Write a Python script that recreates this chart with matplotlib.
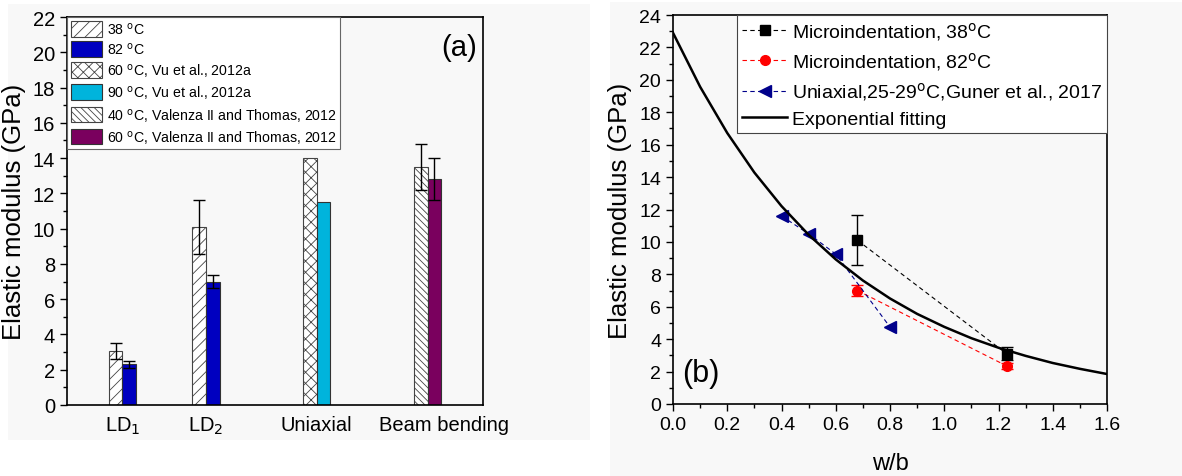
import matplotlib
matplotlib.use('Agg')
import matplotlib.pyplot as plt
from matplotlib.patches import Rectangle
from matplotlib.ticker import MultipleLocator, FormatStrFormatter
import numpy as np

plt.rcParams['font.family'] = ['Liberation Sans', 'DejaVu Sans']
plt.rcParams['hatch.linewidth'] = 0.6

# ---- panel (a) data ----
groups = ['LD$_1$', 'LD$_2$', 'Uniaxial', 'Beam bending']
group_pos = [1.0, 1.75, 2.75, 3.75]
series_a = ['38 $^{\\rm o}$C', '82 $^{\\rm o}$C',
            '60 $^{\\rm o}$C, Vu et al., 2012a', '90 $^{\\rm o}$C, Vu et al., 2012a',
            '40 $^{\\rm o}$C, Valenza II and Thomas, 2012',
            '60 $^{\\rm o}$C, Valenza II and Thomas, 2012']
val_38 = [3.05, 10.1]
err_38 = [0.45, 1.55]
val_82 = [2.3, 7.0]
err_82 = [0.2, 0.35]
val_vu60 = [14.0]
val_vu90 = [11.5]
val_val40 = [13.5]
err_val40 = [1.3]
val_val60 = [12.8]
err_val60 = [1.2]

# ---- panel (b) data ----
wb_micro = [0.68, 1.23]
E_38 = [10.1, 3.1]
E_38_err = [1.55, 0.4]
E_82 = [7.0, 2.35]
E_82_err = [0.35, 0.2]
wb_guner = [0.4, 0.5, 0.6, 0.8]
E_guner = [11.6, 10.5, 9.25, 4.75]
wb_fit = [0.0, 0.1, 0.2, 0.3, 0.4, 0.5, 0.6, 0.7, 0.8, 0.9, 1.0, 1.1, 1.2, 1.3, 1.4, 1.5, 1.6]
E_fit = [22.9, 19.57, 16.72, 14.28, 12.21, 10.44, 8.92, 7.62, 6.51, 5.56, 4.76,
         4.06, 3.47, 2.97, 2.53, 2.17, 1.85]

fig = plt.figure(figsize=(11.82, 4.77), dpi=100)
bg = '#f8f8f8'
fig.patches.append(Rectangle((8 / 1182, 1 - 441 / 477), 582 / 1182, 436 / 477,
                             transform=fig.transFigure, facecolor=bg, edgecolor='none', zorder=-10))
fig.patches.append(Rectangle((610 / 1182, 0.0), 572 / 1182, 474 / 477,
                             transform=fig.transFigure, facecolor=bg, edgecolor='none', zorder=-10))

ax1 = fig.add_axes([67 / 1182, 71 / 477, 416 / 1182, 388 / 477])
ax1.set_facecolor(bg)
w = 0.125
ek = dict(ecolor='black', capsize=4, elinewidth=1, capthick=1)
p = np.array(group_pos)
ax1.bar(p[:2] - w / 2, val_38, w, yerr=err_38, color='white', edgecolor='#444444',
        hatch='///', linewidth=0.8, error_kw=ek, label=series_a[0])
ax1.bar(p[:2] + w / 2, val_82, w, yerr=err_82, color='#0000c0', edgecolor='#333333',
        linewidth=0.8, error_kw=ek, label=series_a[1])
ax1.bar(p[2:3] - w / 2, val_vu60, w, color='white', edgecolor='#444444',
        hatch='xxx', linewidth=0.8, label=series_a[2])
ax1.bar(p[2:3] + w / 2, val_vu90, w, color='#00b4dc', edgecolor='#333333',
        linewidth=0.8, label=series_a[3])
ax1.bar(p[3:4] - w / 2, val_val40, w, yerr=err_val40, color='white', edgecolor='#444444',
        hatch='\\\\\\\\\\', linewidth=0.8, error_kw=ek, label=series_a[4])
ax1.bar(p[3:4] + w / 2, val_val60, w, yerr=err_val60, color='#7a005e', edgecolor='#333333',
        linewidth=0.8, error_kw=ek, label=series_a[5])
ax1.set_xlim(0.5, 4.25)
ax1.set_ylim(0, 22)
ax1.yaxis.set_major_locator(MultipleLocator(2))
ax1.yaxis.set_minor_locator(MultipleLocator(1))
ax1.set_xticks([1.0, 1.75, 2.75, 3.9])
ax1.set_xticklabels(groups, fontsize=14.5)
ax1.tick_params(axis='x', length=0, pad=7)
ax1.tick_params(axis='y', labelsize=14.5, length=5, width=1)
ax1.tick_params(axis='y', which='minor', length=3, width=1)
ax1.set_ylabel('Elastic modulus (GPa)', fontsize=18.5, labelpad=5)
for s in ax1.spines.values():
    s.set_linewidth(1.2)
ax1.text(0.985, 0.96, '(a)', transform=ax1.transAxes, fontsize=21, ha='right', va='top')
leg1 = ax1.legend(loc='upper left', fontsize=10.2, fancybox=False, edgecolor='#666666',
                  framealpha=1, borderaxespad=0, handlelength=2.2, handleheight=1.3,
                  labelspacing=0.3, handletextpad=0.35, borderpad=0.25)
leg1.get_frame().set_linewidth(0.8)

# ---- panel (b) ----
ax2 = fig.add_axes([673 / 1182, 72 / 477, 434 / 1182, 389 / 477])
ax2.set_facecolor(bg)
ax2.errorbar(wb_micro, E_38, yerr=E_38_err, color='black', linestyle='none',
             capsize=4, elinewidth=1)
ax2.errorbar(wb_micro, E_82, yerr=E_82_err, color='red', linestyle='none',
             capsize=4, elinewidth=1)
h1, = ax2.plot(wb_micro, E_38, color='black', marker='s', markersize=7,
               linestyle='--', linewidth=0.8, dashes=(4, 3),
               label='Microindentation, 38$^{\\rm o}$C')
h2, = ax2.plot(wb_micro, E_82, color='red', marker='o', markersize=7,
               linestyle='--', linewidth=0.8, dashes=(4, 3),
               label='Microindentation, 82$^{\\rm o}$C')
h3, = ax2.plot(wb_guner, E_guner, color='#00008b', marker='<', markersize=8, linestyle='--',
               linewidth=0.8, dashes=(4, 3), label='Uniaxial,25-29$^{\\rm o}$C,Guner et al., 2017')
h4, = ax2.plot(wb_fit, E_fit, color='black', linewidth=1.8, label='Exponential fitting')
ax2.set_xlim(0, 1.6)
ax2.set_ylim(0, 24)
ax2.xaxis.set_major_locator(MultipleLocator(0.2))
ax2.xaxis.set_minor_locator(MultipleLocator(0.1))
ax2.yaxis.set_major_locator(MultipleLocator(2))
ax2.yaxis.set_minor_locator(MultipleLocator(1))
ax2.xaxis.set_major_formatter(FormatStrFormatter('%.1f'))
ax2.tick_params(labelsize=14, length=5, width=1)
ax2.tick_params(which='minor', length=3, width=1)
ax2.set_ylabel('Elastic modulus (GPa)', fontsize=18.5, labelpad=5)
ax2.set_xlabel('w/b', fontsize=17, labelpad=14)
for s in ax2.spines.values():
    s.set_linewidth(1.2)
ax2.text(0.02, 0.04, '(b)', transform=ax2.transAxes, fontsize=22, ha='left', va='bottom')
leg2 = ax2.legend(handles=[h1, h2, h3, h4], loc='upper right', fontsize=14, fancybox=False,
                  edgecolor='#444444', framealpha=1, borderaxespad=0, handlelength=2.3,
                  labelspacing=0.42, handletextpad=0.25, borderpad=0.25)
leg2.get_frame().set_linewidth(0.8)

fig.savefig('out.png', dpi=100)
